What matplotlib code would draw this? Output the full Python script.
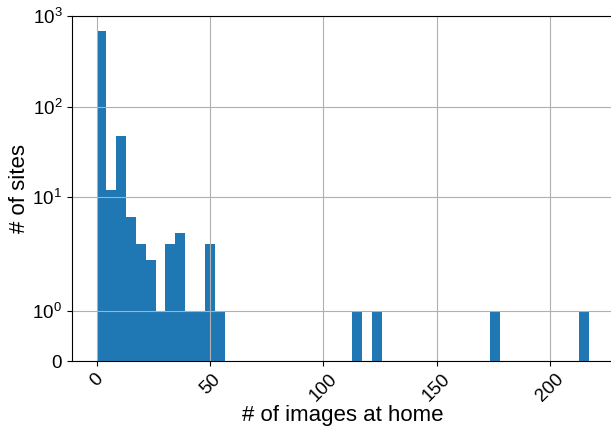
import numpy as np
import matplotlib
matplotlib.use("Agg")
import matplotlib.pyplot as plt

# histogram of images on home page per site: 50 bins over [0, 217]
x_min, x_max = 0, 217
n_bins = 50
counts = [690, 12, 47, 6, 3, 2, 1, 3, 4, 1,
          1, 3, 1, 0, 0, 0, 0, 0, 0, 0,
          0, 0, 0, 0, 0, 0, 1, 0, 1, 0,
          0, 0, 0, 0, 0, 0, 0, 0, 0, 0,
          1, 0, 0, 0, 0, 0, 0, 0, 0, 1]
x_label = "# of images at home"
y_label = "# of sites"

plt.rcParams["font.family"] = ["Liberation Sans", "DejaVu Sans"]

edges = np.linspace(x_min, x_max, n_bins + 1)
centers = (edges[:-1] + edges[1:]) / 2

fig = plt.figure(figsize=(6.11, 4.29), dpi=100)
# right spine falls just outside the canvas, as in the original crop
ax = fig.add_axes([0.1178, 0.1585, 0.8858, 0.8042])

ax.hist(centers, bins=edges, weights=counts, color="#1f77b4")
ax.set_yscale("symlog")
ax.set_ylim(0, 1000)
ax.grid(True)

ax.set_xlabel(x_label, fontsize=16, labelpad=0)
ax.set_ylabel(y_label, fontsize=16, labelpad=2)
ax.tick_params(axis="both", labelsize=13.5)
plt.setp(ax.get_xticklabels(), rotation=45)

fig.savefig("out.png", dpi=100)
